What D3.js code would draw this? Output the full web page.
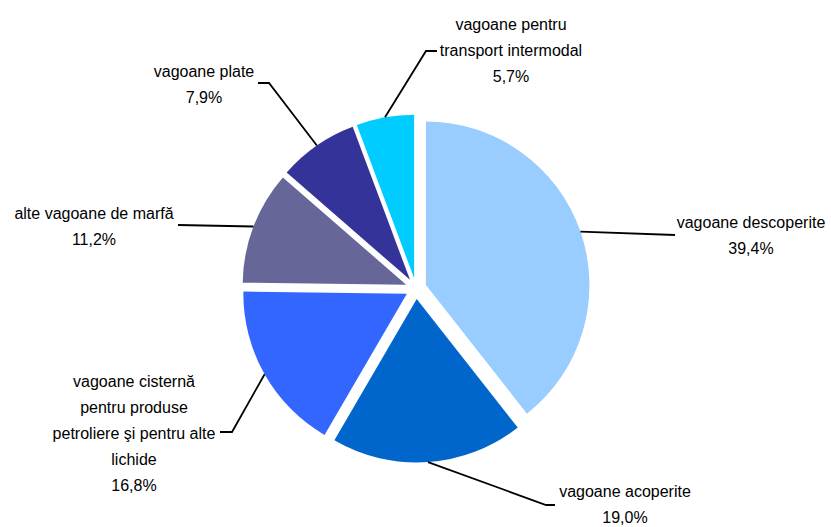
<!DOCTYPE html>
<html>
<head>
<meta charset="utf-8">
<script src="https://cdn.jsdelivr.net/npm/d3@7"></script>
<style>
  body { margin: 0; background: #fff; }
  svg { display: block; }
</style>
</head>
<body>
<svg id="chart"></svg>
<script>
const categories = [
    ["vagoane descoperite"],
    ["vagoane acoperite"],
    ["vagoane cisternă", "pentru produse", "petroliere şi pentru alte", "lichide"],
    ["alte vagoane de marfă"],
    ["vagoane plate"],
    ["vagoane pentru", "transport intermodal"]
];
const values = [39.4, 19.0, 16.8, 11.2, 7.9, 5.7];
const colors = ["#99CCFF", "#0066CC", "#3366FF", "#666699", "#333399", "#00CCFF"];

// label placement: elbow of leader, end of leader, text centre x, first baseline y
const labelPos = [
    { elbow: [675, 235], end: [675, 235], tx: 751, ty: 228 },
    { elbow: [546, 505], end: [555, 505], tx: 625, ty: 497 },
    { elbow: [232, 432], end: [220, 432], tx: 134, ty: 387 },
    { elbow: [178, 225], end: [178, 225], tx: 94, ty: 219 },
    { elbow: [269, 83], end: [258, 83], tx: 204, ty: 77 },
    { elbow: [426, 51], end: [437, 51], tx: 511, ty: 30 }
];

const width = 831, height = 527;
const cx = 416, cy = 288.5, radius = 163.5, explode = 10.5;
const lineH = 26;
const fmt = v => d3.format(".1f")(v).replace(".", ",") + "%";

const svg = d3.select("#chart")
    .attr("width", width)
    .attr("height", height);

const g = svg.append("g")
    .attr("transform", `translate(${cx},${cy})`);

const pie = d3.pie().sort(null).value(d => d)
    .startAngle(0).endAngle(2 * Math.PI);
const arcs = pie(values);

const arc = d3.arc().innerRadius(0).outerRadius(radius);

function offset(d, r) {
    const a = (d.startAngle + d.endAngle) / 2;
    return [Math.sin(a) * r, -Math.cos(a) * r];
}

g.selectAll(".slice")
    .data(arcs)
    .enter().append("path")
    .attr("class", "slice")
    .attr("d", arc)
    .attr("fill", (d, i) => colors[i])
    .attr("transform", d => {
        const [ox, oy] = offset(d, explode);
        return `translate(${ox},${oy})`;
    });

// leader lines
svg.selectAll(".leader")
    .data(arcs)
    .enter().append("polyline")
    .attr("class", "leader")
    .attr("fill", "none")
    .attr("stroke", "#000")
    .attr("stroke-width", 1.8)
    .attr("points", (d, i) => {
        const [x0, y0] = offset(d, radius + explode);
        const p = labelPos[i];
        return [[cx + x0, cy + y0], p.elbow, p.end].map(q => q.join(",")).join(" ");
    });

// labels
const labels = svg.selectAll(".label")
    .data(arcs)
    .enter().append("text")
    .attr("class", "label")
    .attr("text-anchor", "middle")
    .style("font-family", "'Liberation Sans', Arial, sans-serif")
    .style("font-size", "16px")
    .style("fill", "#000");

labels.each(function(d, i) {
    const t = d3.select(this);
    const lines = categories[i].concat([fmt(values[i])]);
    lines.forEach((s, k) => {
        t.append("tspan")
            .attr("x", labelPos[i].tx)
            .attr("y", labelPos[i].ty + k * lineH)
            .text(s);
    });
});
</script>
</body>
</html>
